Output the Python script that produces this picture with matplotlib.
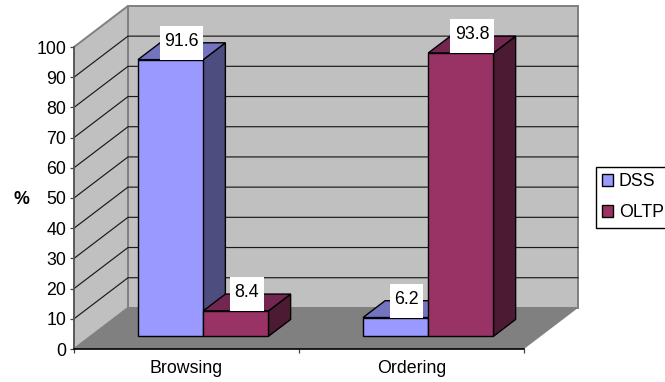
import matplotlib
matplotlib.use('Agg')
import matplotlib.pyplot as plt
from matplotlib.patches import Polygon, Rectangle, Patch

plt.rcParams['font.family'] = ['Liberation Sans', 'DejaVu Sans']
plt.rcParams['font.size'] = 12.8

# data
categories = ['Browsing', 'Ordering']
series_names = ['DSS', 'OLTP']
dss_values = [91.6, 6.2]
oltp_values = [8.4, 93.8]
y_ticks = [0, 10, 20, 30, 40, 50, 60, 70, 80, 90, 100]

# fake 3d: how far one unit of depth moves a point, in data units
DEPTH_X = 0.24
DEPTH_Y = 13.6
BAR_WIDTH = 0.29
BAR_FRONT = 0.31
BAR_DEPTH = 0.41

# front, top, side
dss_colors = ['#9999FF', '#7373BF', '#4D4D80']
oltp_colors = ['#993366', '#732650', '#4D1A33']


def project(x, value, depth):
    return (x + depth * DEPTH_X, value + depth * DEPTH_Y)


fig = plt.figure(figsize=(6.65, 3.82), dpi=100)
ax = fig.add_axes([74 / 665, 33 / 382, 450 / 665, 302 / 382])
ax.set_xlim(0, 2)
ax.set_ylim(0, 100)
ax.patch.set_visible(False)


def face(points, color, edge='none', lw=0, z=1):
    ax.add_patch(Polygon(points, closed=True, facecolor=color, edgecolor=edge,
                         linewidth=lw, joinstyle='miter', clip_on=False, zorder=z))


# walls and floor
face([project(0, 0, 1), project(2, 0, 1), project(2, 100, 1), project(0, 100, 1)],
     '#C0C0C0', '#808080', 1.4)
face([project(0, 0, 0), project(0, 0, 1), project(0, 100, 1), project(0, 100, 0)],
     '#C0C0C0', '#808080', 1.4)
face([project(0, 0, 0), project(2, 0, 0), project(2, 0, 1), project(0, 0, 1)],
     '#808080')

# grid lines on the side wall and back wall
for v in y_ticks[1:-1]:
    pts = [project(0, v, 0), project(0, v, 1), project(2, v, 1)]
    ax.plot([p[0] for p in pts], [p[1] for p in pts], color='#1A1A1A', lw=0.85,
            clip_on=False, zorder=1.5)


def draw_bar(x_left, value, colors, z):
    x_right = x_left + BAR_WIDTH
    lift = BAR_FRONT * DEPTH_Y
    back = BAR_FRONT + BAR_DEPTH
    # side and top first, front face last
    face([project(x_right, 0, BAR_FRONT), project(x_right, 0, back),
          project(x_right, value, back), project(x_right, value, BAR_FRONT)],
         colors[2], 'black', 1.0, z)
    face([project(x_left, value, BAR_FRONT), project(x_right, value, BAR_FRONT),
          project(x_right, value, back), project(x_left, value, back)],
         colors[1], 'black', 1.0, z)
    ax.bar(x_left + BAR_FRONT * DEPTH_X, value, BAR_WIDTH, bottom=lift, align='edge',
           color=colors[0], edgecolor='black', linewidth=1.0, clip_on=False, zorder=z)


def draw_label(x_left, value):
    # white box sits on the front top edge, centred over the top face
    cx, base = project(x_left + BAR_WIDTH / 2, value, BAR_FRONT)
    cx += BAR_DEPTH * DEPTH_X / 2
    t = ax.text(cx, base + 6.0, str(value), ha='center', va='center', color='black', zorder=11)
    fig.canvas.draw()
    w_px = t.get_window_extent().width + 9
    w = w_px * 2 / 450
    ax.add_patch(Rectangle((cx - w / 2, base), w, 11.2, facecolor='white', edgecolor='none',
                           clip_on=False, zorder=10))


for i in range(len(categories)):
    x_dss = i + 0.5 - BAR_WIDTH
    x_oltp = i + 0.5
    draw_bar(x_dss, dss_values[i], dss_colors, 3 + i * 2)
    draw_bar(x_oltp, oltp_values[i], oltp_colors, 4 + i * 2)
    draw_label(x_dss, dss_values[i])
    draw_label(x_oltp, oltp_values[i])

# axes
for name in ['top', 'right']:
    ax.spines[name].set_visible(False)
ax.spines['left'].set_color('#555555')
ax.spines['left'].set_linewidth(1.2)
ax.spines['bottom'].set_color('black')
ax.spines['bottom'].set_linewidth(1.2)
ax.set_yticks(y_ticks)
ax.tick_params(axis='y', length=3, width=0.9, color='#444444', pad=2.5, labelcolor='black')
ax.set_xticks([0, 1, 2])
ax.set_xticklabels([])
ax.tick_params(axis='x', which='major', length=3, width=0.9, color='#444444')
ax.set_xticks([0.5, 1.5], minor=True)
ax.set_xticklabels(categories, minor=True)
ax.tick_params(axis='x', which='minor', length=0, pad=8, labelcolor='black')
fig.text(21 / 665, 1 - 199 / 382, '%', ha='center', va='center', fontweight='bold')

# legend
handles = [Patch(facecolor=dss_colors[0], edgecolor='black', linewidth=1.0),
           Patch(facecolor=oltp_colors[0], edgecolor='black', linewidth=1.0)]
fig.legend(handles, series_names, loc='upper left',
           bbox_to_anchor=(596 / 665, 1 - 167 / 382), borderaxespad=0,
           fancybox=False, framealpha=1, edgecolor='black',
           borderpad=0.36, labelspacing=0.79, handlelength=0.62, handleheight=0.62,
           handletextpad=0.3, frameon=True)

fig.savefig('out.png', dpi=100)
